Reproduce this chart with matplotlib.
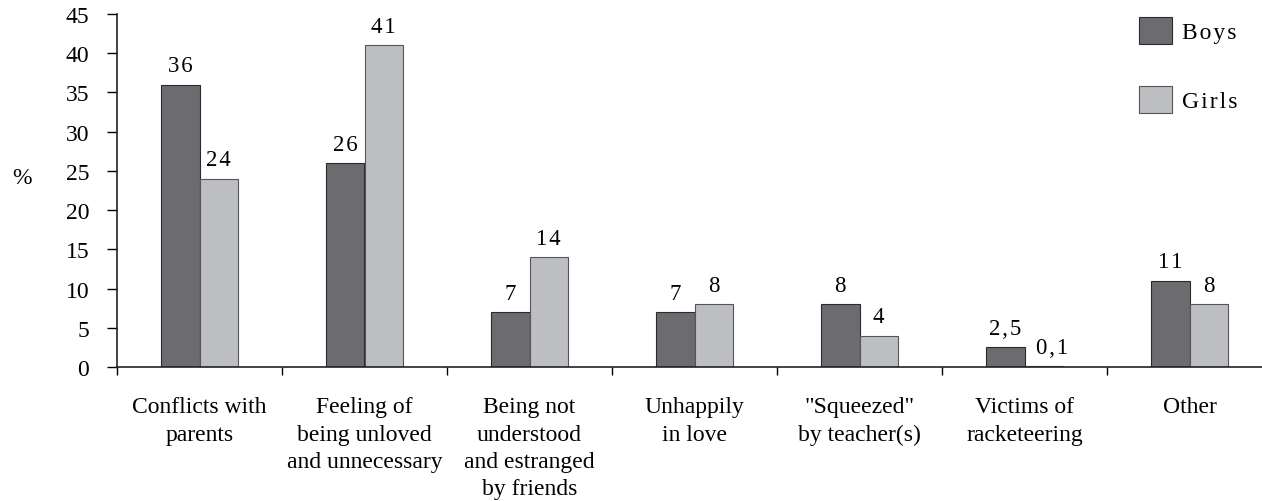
#!/usr/bin/env python3
"""Grouped bar chart: reasons for suicidal thoughts, boys vs girls (%)."""
import matplotlib
matplotlib.use("Agg")
import matplotlib.pyplot as plt  # noqa: E402
import numpy as np  # noqa: E402

categories = [
    "Conflicts with\nparents",
    "Feeling of\nbeing unloved\nand unnecessary",
    "Being not\nunderstood\nand estranged\nby friends",
    "Unhappily\nin love",
    "\"Squeezed\"\nby teacher(s)",
    "Victims of\nracketeering",
    "Other",
]
boys = [36, 26, 7, 7, 8, 2.5, 11]
girls = [24, 41, 14, 8, 4, 0.1, 8]
boys_labels = ["36", "26", "7", "7", "8", "2,5", "11"]
girls_labels = ["24", "41", "14", "8", "4", "0,1", "8"]
yticks = list(range(0, 50, 5))

DARK = "#6b6b70"
LIGHT = "#bdbec2"
EDGE = "#2a2a2a"
FS = 17


def spaced(s):
    # the source letter-spaces its digits a little
    return "\u200a".join(s)


def main():
    plt.rcParams["font.family"] = ["Liberation Serif", "DejaVu Serif"]
    W, H = 1262, 502
    fig = plt.figure(figsize=(W / 100, H / 100), dpi=100)
    cat_px = 165.0
    left, right, bottom, top = 117, W, 368, 15
    ax = fig.add_axes([left / W, 1 - bottom / H, (right - left) / W, (bottom - top) / H])

    n = len(categories)
    centers = np.arange(n) + 0.5
    bw = 0.232
    b1 = ax.bar(centers - bw / 2, boys, bw, color=DARK, edgecolor=EDGE, lw=0.8, label="Boys")
    b2 = ax.bar(centers + bw / 2, girls, bw, color=LIGHT, edgecolor="#555555", lw=0.8, label="Girls")

    for bars, labels in ((b1, boys_labels), (b2, girls_labels)):
        for rect, lab in zip(bars, labels):
            dx = 6 if lab == "0,1" else 0   # tiny bar: label nudged right as in the source
            ax.annotate(spaced(lab), (rect.get_x() + rect.get_width() / 2, rect.get_height()),
                        xytext=(dx, 6), textcoords="offset points", ha="center", va="bottom",
                        fontsize=16.5)

    ax.set_xlim(0, (right - left) / cat_px)
    ax.set_ylim(0, 45)
    ax.set_yticks(yticks)
    ax.set_yticklabels([str(t) for t in yticks], fontsize=FS)
    ax.tick_params(axis="y", direction="out", length=7, width=1, pad=13)

    ax.set_xticks(np.arange(0, n))
    ax.set_xticklabels([])
    ax.tick_params(axis="x", which="major", direction="out", length=6, width=1)
    ax.set_xticks(centers, minor=True)
    ax.set_xticklabels(categories, minor=True, fontsize=FS, linespacing=1.4, va="top")
    ax.tick_params(axis="x", which="minor", length=0, pad=21)

    for side in ("top", "right"):
        ax.spines[side].set_visible(False)
    for side in ("left", "bottom"):
        ax.spines[side].set_linewidth(1.2)
        ax.spines[side].set_color("#222222")

    fig.text(22 / W, 1 - 178 / H, "%", fontsize=FS, ha="center", va="center")

    ax.legend(handles=[b1, b2], labels=[spaced("Boys"), spaced("Girls")],
              loc="upper left", bbox_to_anchor=(1139 / W, 1 - 18 / H),
              bbox_transform=fig.transFigure, frameon=False, fontsize=FS,
              handlelength=1.38, handleheight=1.38, labelspacing=1.78,
              handletextpad=0.45, borderaxespad=0, borderpad=0)

    fig.savefig("out.png", dpi=100)
    plt.close(fig)


if __name__ == "__main__":
    main()
